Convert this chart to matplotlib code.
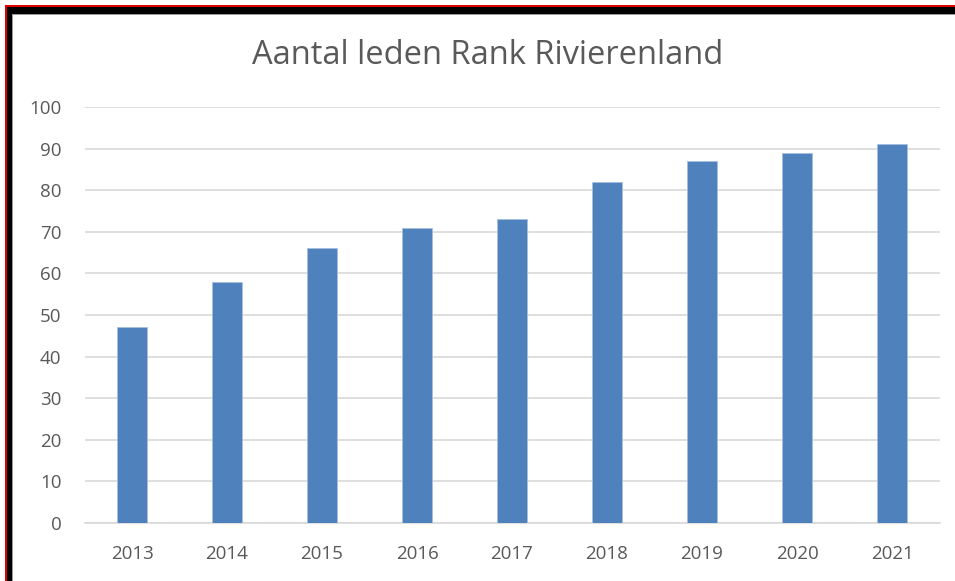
import matplotlib
matplotlib.use("Agg")
import matplotlib.pyplot as plt
from matplotlib.patches import Rectangle

years = ["2013", "2014", "2015", "2016", "2017", "2018", "2019", "2020", "2021"]
members = [47, 58, 66, 71, 73, 82, 87, 89, 91]
yticks = [0, 10, 20, 30, 40, 50, 60, 70, 80, 90, 100]
title = "Aantal leden Rank Rivierenland"

W, H = 955, 581
fig = plt.figure(figsize=(W / 100, H / 100), dpi=100)
fig.patch.set_facecolor("white")
plt.rcParams["font.family"] = ["Open Sans", "DejaVu Sans"]

ax = fig.add_axes([84.5 / W, 1 - 523 / H, (939.5 - 84.5) / W, (523 - 107) / H])
x = list(range(len(years)))
ax.bar(x, members, width=0.32, color="#4F81BD", edgecolor="#A7C0E0", linewidth=0.6, zorder=3)
ax.set_xlim(-0.5, len(years) - 0.5)
ax.set_ylim(0, 100)
ax.set_yticks(yticks)
ax.set_xticks(x)
ax.set_xticklabels(years)
ax.yaxis.grid(True, color="#D9D9D9", linewidth=1.2, zorder=0)
ax.set_axisbelow(True)
for s in ["top", "right", "left"]:
    ax.spines[s].set_visible(False)
ax.spines["bottom"].set_color("#D9D9D9")
ax.spines["bottom"].set_linewidth(1.2)
ax.tick_params(axis="both", length=0, labelsize=13.5, labelcolor="#595959")
ax.tick_params(axis="y", pad=16.5)
ax.tick_params(axis="x", pad=16)

fig.text(488 / W, 1 - 64 / H, title, ha="center", va="baseline", fontsize=23.5, color="#595959")

# frame (top and left)
def rect(x0, y0, w, h, color):
    fig.add_artist(Rectangle((x0 / W, 1 - (y0 + h) / H), w / W, h / H,
                             transform=fig.transFigure, color=color, lw=0))

rect(5, 5, W - 5, 2, "#E00000")
rect(5, 5, 2, H - 5, "#E00000")
rect(7, 7, W - 7, 7, "black")
rect(7, 7, 5, H - 7, "black")
rect(12, 14, W - 12, 1.2, "#9A9A9A")
rect(12, 14, 1.2, H - 14, "#9A9A9A")

fig.savefig("out.png", dpi=100)
